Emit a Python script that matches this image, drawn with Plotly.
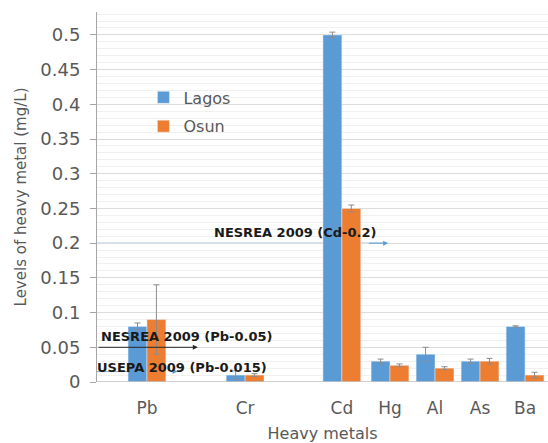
import plotly.graph_objects as go

metals = ["Pb", "Cr", "Cd", "Hg", "Al", "As", "Ba"]
lagos = [0.08, 0.01, 0.50, 0.03, 0.04, 0.03, 0.08]
lagos_err = [0.005, 0.006, 0.004, 0.003, 0.01, 0.003, 0.001]
osun = [0.09, 0.01, 0.25, 0.024, 0.02, 0.03, 0.01]
osun_err = [0.05, 0.002, 0.005, 0.002, 0.002, 0.004, 0.004]

# category positions along the axis (layout)
xpos = [0, 2.18, 4.33, 5.4, 6.4, 7.4, 8.4]

BLUE = "#5B9BD5"
ORANGE = "#ED7D31"
GREY = "#595959"
FONT = "DejaVu Sans"

fig = go.Figure()
fig.add_trace(go.Bar(
    x=xpos, y=lagos, name="Lagos", marker_color=BLUE, legendgroup="a",
    error_y=dict(type="data", array=lagos_err, color="#8c8c8c", thickness=1, width=3),
))
fig.add_trace(go.Bar(
    x=xpos, y=osun, name="Osun", marker_color=ORANGE, legendgroup="b",
    error_y=dict(type="data", array=osun_err, color="#8c8c8c", thickness=1, width=3),
))

xmin, xmax = -1.11, 8.91

# reference lines
fig.add_shape(type="line", xref="x", yref="y", x0=xmin, x1=5.3, y0=0.2, y1=0.2,
              line=dict(color="#7fb2e0", width=1), layer="below")
fig.add_shape(type="line", xref="x", yref="y", x0=xmin, x1=0.0, y0=0.015, y1=0.015,
              line=dict(color="#7fb2e0", width=1), layer="below")

fig.add_annotation(x=5.36, y=0.2, ax=4.9, ay=0.2, xref="x", yref="y", axref="x", ayref="y",
                   text="", showarrow=True, arrowhead=2, arrowsize=1, arrowwidth=1,
                   arrowcolor="#5B9BD5")
fig.add_annotation(x=1.13, y=0.05, ax=xmin, ay=0.05, xref="x", yref="y", axref="x", ayref="y",
                   text="", showarrow=True, arrowhead=2, arrowsize=1, arrowwidth=1,
                   arrowcolor="#262626")
fig.add_annotation(x=0.68, y=0.015, ax=0.5, ay=0.015, xref="x", yref="y", axref="x", ayref="y",
                   text="", showarrow=True, arrowhead=2, arrowsize=1, arrowwidth=1,
                   arrowcolor="#5B9BD5")

tfont = dict(family=FONT, size=13, color="#1a1a1a")
fig.add_annotation(x=(295 - 147) / 45, y=0.216, xref="x", yref="y", showarrow=False,
                   text="<b>NESREA 2009 (Cd-0.2)</b>", font=tfont)
fig.add_annotation(x=(187 - 147) / 45, y=0.065, xref="x", yref="y", showarrow=False,
                   text="<b>NESREA 2009 (Pb-0.05)</b>", font=tfont)
fig.add_annotation(x=(182 - 147) / 45, y=0.0216, xref="x", yref="y", showarrow=False,
                   text="<b>USEPA 2009 (Pb-0.015)</b>", font=tfont)

fig.update_layout(
    width=548, height=443,
    margin=dict(l=97, r=0, t=12, b=61),
    paper_bgcolor="white", plot_bgcolor="white",
    barmode="group", bargap=0.16, bargroupgap=0,
    font=dict(family=FONT, color=GREY),
    legend=dict(x=0.103, y=0.815, xanchor="left", yanchor="top",
                font=dict(family=FONT, size=16, color=GREY),
                bgcolor="rgba(0,0,0,0)", tracegroupgap=5, itemwidth=30),
    showlegend=True,
)
fig.update_xaxes(
    range=[xmin, xmax], tickvals=xpos, ticktext=metals,
    tickfont=dict(family=FONT, size=17, color=GREY),
    showgrid=False, zeroline=False, showline=False, ticks="",
    ticklabelstandoff=14,
    title=dict(text="Heavy metals", font=dict(family=FONT, size=16, color=GREY), standoff=13),
)
fig.update_yaxes(
    range=[0, 0.533], tickvals=[0, 0.05, 0.1, 0.15, 0.2, 0.25, 0.3, 0.35, 0.4, 0.45, 0.5],
    ticktext=["0", "0.05", "0.1", "0.15", "0.2", "0.25", "0.3", "0.35", "0.4", "0.45", "0.5"],
    tickfont=dict(family=FONT, size=18, color=GREY),
    showgrid=True, gridcolor="#dcdcdc", gridwidth=1,
    minor=dict(dtick=0.01, tick0=0, showgrid=True, gridcolor="#f0f0f0", gridwidth=1),
    showline=True, linecolor="#a6a6a6", linewidth=1,
    ticks="outside", ticklen=6, tickcolor="#a6a6a6",
    ticklabelstandoff=6,
    zeroline=False,
    title=dict(text="Levels of heavy metal (mg/L)", font=dict(family=FONT, size=15, color=GREY), standoff=10),
)
# x baseline
fig.add_shape(type="line", xref="paper", yref="y", x0=0, x1=1, y0=0, y1=0,
              line=dict(color="#bfbfbf", width=1.5))

fig.write_html("out.html", config={"displayModeBar": False},
               post_script="document.body.style.margin='0';document.body.style.overflow='hidden';")
